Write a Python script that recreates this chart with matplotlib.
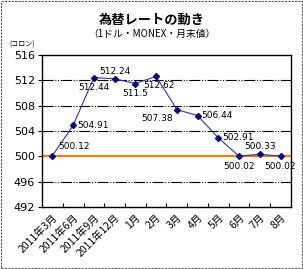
import matplotlib
matplotlib.use("Agg")
import matplotlib.pyplot as plt
from matplotlib.patches import Rectangle

plt.rcParams['font.family'] = ['Noto Sans CJK JP', 'DejaVu Sans']

# データ
months = ["2011年3月", "2011年6月", "2011年9月", "2011年12月", "1月", "2月",
          "3月", "4月", "5月", "6月", "7月", "8月"]
rates = [500.12, 504.91, 512.44, 512.24, 511.5, 512.62,
         507.38, 506.44, 502.91, 500.02, 500.33, 500.02]
label_pos = ["ur", "r", "b", "a", "b", "br", "bl", "r", "r", "b", "a", "b"]
yticks = [492, 496, 500, 504, 508, 512, 516]
base = 500

fig = plt.figure(figsize=(3.03, 2.69), dpi=100)
ax = fig.add_axes([0.139, 0.2305, 0.821, 0.565])

x = list(range(len(months)))
ax.axhline(base, color="#ff8000", lw=1.5, zorder=2)
for g in [496, 504, 508, 512]:
    ax.axhline(g, color="black", lw=0.8, ls=(0, (10, 1.5, 1, 1.5, 1, 1.5)), zorder=1)
ax.plot(x, rates, color="#3333aa", lw=0.8, marker="D", ms=3,
        mfc="#000080", mec="#000080", zorder=3)

offs = {"ur": (4, 3, "left", "bottom"), "r": (3, 0, "left", "center"),
        "b": (0, -4, "center", "top"), "a": (0, 2, "center", "bottom"),
        "br": (2, -3, "center", "top"), "bl": (-3, -3, "right", "top")}
for i, (v, p) in enumerate(zip(rates, label_pos)):
    dx, dy, ha, va = offs[p]
    ax.annotate(f"{v:g}", (i, v), xytext=(dx, dy), textcoords="offset points",
                ha=ha, va=va, fontsize=6.5, family="DejaVu Sans")

ax.set_xlim(-0.5, len(months) - 0.5)
ax.set_ylim(492, 516)
ax.set_yticks(yticks)
ax.set_yticklabels([str(t) for t in yticks], fontsize=8, family="DejaVu Sans")
ax.set_xticks([i + 0.5 for i in range(len(months) - 1)], minor=False)
ax.set_xticklabels([])
ax.set_xticks(x, minor=True)
ax.set_xticklabels(months, minor=True, rotation=45, ha="right",
                   rotation_mode="anchor", fontsize=7.5)
ax.tick_params(axis="x", which="major", direction="in", length=3)
ax.tick_params(axis="x", which="minor", length=0, pad=4)
ax.tick_params(axis="y", direction="out", length=3, pad=2)
for s in ax.spines.values():
    s.set_linewidth(1.0)

fig.text(0.5, 0.925, "為替レートの動き", ha="center", va="center",
         fontsize=9.5, fontweight="bold")
fig.text(0.5, 0.875, "（1ドル・MONEX・月末値）", ha="center", va="center",
         fontsize=7)
fig.text(0.03, 0.835, "(コロン)", ha="left", va="center", fontsize=5)

fig.patches.append(Rectangle((0.003, 0.004), 0.993, 0.992, transform=fig.transFigure,
                             fill=False, ec="#555555", lw=0.8, ls=(0, (2, 1))))

fig.savefig("out.png", dpi=100)
